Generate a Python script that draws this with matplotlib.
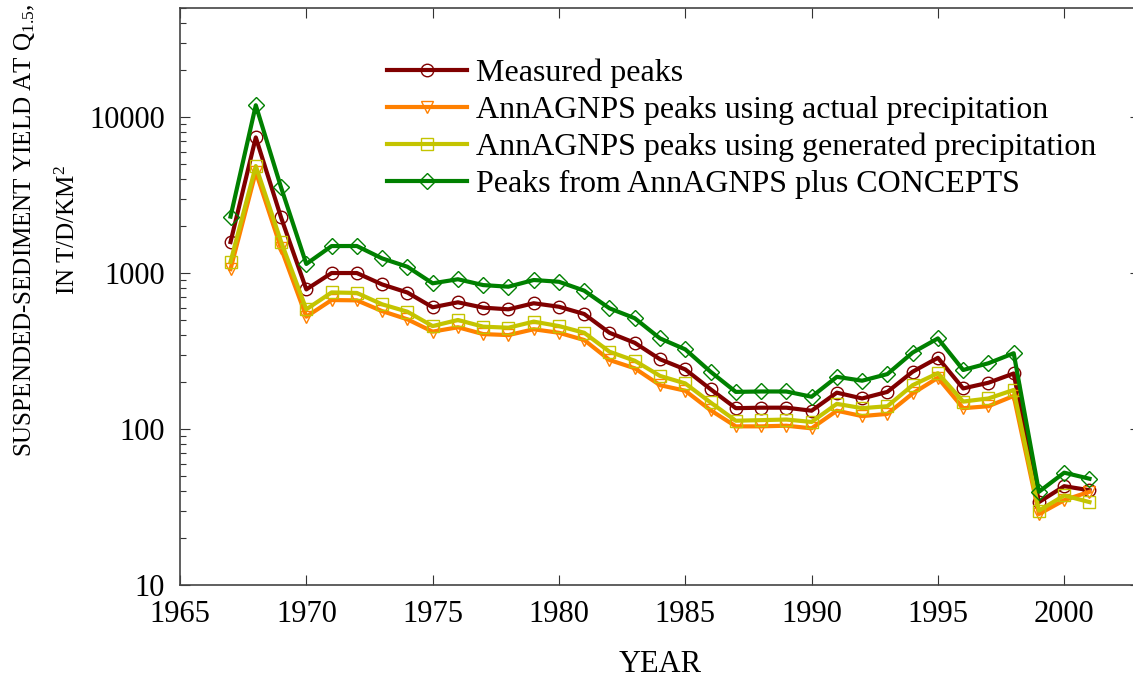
import matplotlib
matplotlib.use("Agg")
import matplotlib.pyplot as plt
from matplotlib.ticker import LogLocator, NullFormatter

plt.rcParams['font.family'] = ['Liberation Serif', 'DejaVu Serif']
plt.rcParams['mathtext.fontset'] = 'custom'
plt.rcParams['mathtext.rm'] = 'Liberation Serif'
plt.rcParams['mathtext.it'] = 'Liberation Serif:italic'

# data
years = list(range(1967, 2002))
measured = [1580, 7400, 2270, 785, 1000, 1000, 845, 750, 603, 649, 600, 585, 640, 608, 546, 414,
            357, 280, 241, 180, 136, 137, 137, 131, 171, 157, 173, 233, 286, 182, 198, 227,
            34, 43, 40.5]
actual = [1060, 4450, 1440, 525, 671, 668, 570, 505, 421, 449, 406, 400, 436, 414, 372, 277,
          245, 191, 176, 132, 104, 104, 105, 101, 131, 121, 125, 169, 213, 136, 140, 163,
          28.5, 35, 39.6]
generated = [1180, 4850, 1590, 585, 751, 745, 630, 565, 457, 500, 453, 446, 488, 457, 414, 313,
             274, 219, 196, 148, 113, 114, 115, 111, 145, 136, 140, 191, 228, 150, 157, 178,
             30, 37.5, 34]
combined = [2300, 11900, 3540, 1143, 1489, 1490, 1241, 1097, 859, 912, 837, 817, 902, 879, 771, 594,
            513, 381, 324, 233, 173, 174, 174, 161, 216, 204, 225, 309, 381, 239, 264, 306,
            39.6, 52.5, 48]

labels = ['Measured peaks',
          'AnnAGNPS peaks using actual precipitation',
          'AnnAGNPS peaks using generated precipitation',
          'Peaks from AnnAGNPS plus CONCEPTS']
colors = ['#800000', '#ff8000', '#c4c400', '#008000']
markers = ['o', 'v', 's', 'D']
msizes = [9, 8.5, 8, 8.5]

x_ticks = [1965, 1970, 1975, 1980, 1985, 1990, 1995, 2000]
y_ticks = [10, 100, 1000, 10000]
y_ticklabels = ['10', '100', '1000', '10000']

fig = plt.figure(figsize=(11.33, 6.8), dpi=100)
ax = fig.add_axes([180 / 1133, 95 / 680, 960 / 1133, 577 / 680])

for series, lab, c, m, ms in zip([measured, actual, generated, combined], labels, colors, markers, msizes):
    ax.plot(years, series, color=c, lw=3, marker=m, ms=ms, mfc='none', mec=c, mew=1.0, label=lab)

ax.set_yscale('log')
ax.set_xlim(1965, 2003)
ax.set_ylim(10, 50000)
ax.set_xticks(x_ticks)
ax.set_yticks(y_ticks)
ax.set_yticklabels(y_ticklabels)
ax.yaxis.set_minor_locator(LogLocator(base=10, subs=range(2, 10)))
ax.yaxis.set_minor_formatter(NullFormatter())

ax.tick_params(which='major', direction='in', length=7.2, width=0.8, labelsize=22,
               top=True, right=True, pad=11, colors='#333333', labelcolor='black')
ax.tick_params(which='minor', direction='in', length=4.3, width=0.8, right=False, top=False,
               colors='#333333')
for sp in ax.spines.values():
    sp.set_color('#444444')
    sp.set_linewidth(1.2)

ax.set_xlabel('YEAR', fontsize=22, va='center')
ax.xaxis.set_label_coords(0.5, (585 - 665) / 577)
ax.set_ylabel('SUSPENDED-SEDIMENT YIELD AT Q$_{1.5}$,\nIN T/D/KM$^{2}$', fontsize=18,
              va='center', ha='center', multialignment='center', linespacing=1.95)
ax.yaxis.set_label_coords((46 - 180) / 960, (585 - 230) / 577)

ax.legend(loc='upper left', bbox_to_anchor=(387 / 1133, 1 - 59 / 680),
          bbox_transform=fig.transFigure, frameon=False, fontsize=23,
          handlelength=2.5, handletextpad=0.3, labelspacing=0.23,
          borderpad=0, borderaxespad=0, numpoints=1)

fig.savefig('out.png', dpi=100)
